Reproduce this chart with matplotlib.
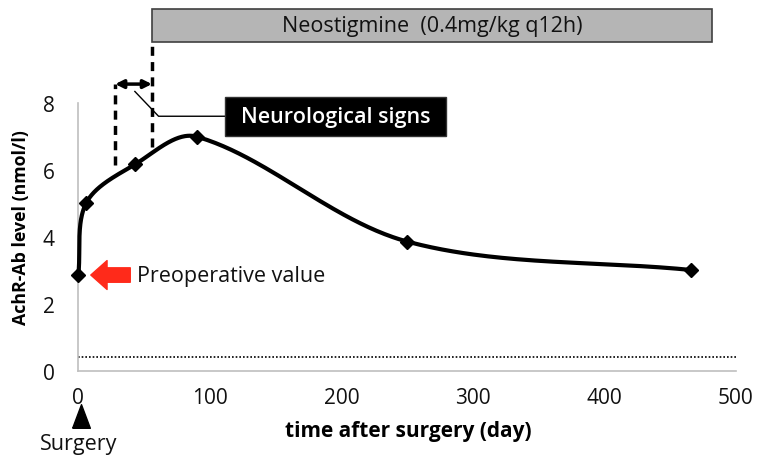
import numpy as np
import matplotlib
matplotlib.use("Agg")
import matplotlib.pyplot as plt
from matplotlib.patches import Rectangle
from matplotlib.path import Path

plt.rcParams['font.family'] = ['Open Sans', 'DejaVu Sans']

# data
days = [0, 6, 43, 90, 250, 466]
achr = [2.85, 5.0, 6.15, 6.98, 3.85, 3.0]
normal_limit = 0.4
xticks = [0, 100, 200, 300, 400, 500]
yticks = [0, 2, 4, 6, 8]
neuro_start, neuro_end = 28, 56
neo_start, neo_end = 56, 482

FS = 15.5

fig = plt.figure(figsize=(7.61, 4.56), dpi=100)
ax = fig.add_axes([0.1029, 0.1853, 0.8642, 0.5877])
ax.set_xlim(0, 500)
ax.set_ylim(0, 8)
for s in ['top', 'right']:
    ax.spines[s].set_visible(False)
for s in ['left', 'bottom']:
    ax.spines[s].set_color('#bfbfbf')
    ax.spines[s].set_linewidth(1.2)
ax.set_xticks(xticks)
ax.set_yticks(yticks)
ax.tick_params(length=0, labelsize=15, labelcolor='#111111')
ax.tick_params(axis='x', pad=12)
ax.tick_params(axis='y', pad=17)

# smooth curve (chord-length Catmull-Rom Bezier in display space)
fig.canvas.draw()
P = ax.transData.transform(np.column_stack([days, achr]))
n = len(P)
d = np.linalg.norm(np.diff(P, axis=0), axis=1)
tang = np.zeros_like(P)
for i in range(n):
    if i == 0:
        tang[i] = (P[1] - P[0]) / d[0]
    elif i == n - 1:
        tang[i] = (P[-1] - P[-2]) / d[-1]
    else:
        tang[i] = (P[i + 1] - P[i - 1]) / (d[i - 1] + d[i])
pts = []
for i in range(n - 1):
    p1, p2 = P[i], P[i + 1]
    c1 = p1 + tang[i] * d[i] / 3
    c2 = p2 - tang[i + 1] * d[i] / 3
    t = np.linspace(0, 1, 80)[:, None]
    seg = (1 - t) ** 3 * p1 + 3 * (1 - t) ** 2 * t * c1 + 3 * (1 - t) * t ** 2 * c2 + t ** 3 * p2
    pts.append(seg)
pts = np.vstack(pts)
curve = ax.transData.inverted().transform(pts)
ax.plot(curve[:, 0], curve[:, 1], color='black', lw=3, solid_capstyle='round', clip_on=False, zorder=3)
ax.plot(days, achr, linestyle='none', marker='D', color='black', markersize=7, clip_on=False, zorder=4)

# normal limit dotted line
ax.plot([0, 500], [normal_limit, normal_limit], color='black', lw=1.2, linestyle=(0, (1, 1.2)), zorder=2)

# dashed verticals
ax.plot([neuro_start, neuro_start], [6.13, 8.55], color='black', lw=2.5, linestyle=(0, (2.6, 1.8)), clip_on=False)
ax.plot([neo_start, neo_start], [6.67, 9.81], color='black', lw=2.5, linestyle=(0, (2.6, 1.8)), clip_on=False)

# double arrow
ax.annotate('', xy=(neuro_start, 8.55), xytext=(neo_start, 8.55),
            arrowprops=dict(arrowstyle='<|-|>', color='black', lw=2.5, mutation_scale=12,
                            shrinkA=0, shrinkB=0), annotation_clip=False)

# leader line
ax.plot([43, 61, 111.5], [8.33, 7.59, 7.59], color='black', lw=1, clip_on=False)

# Neurological signs box
ax.add_patch(Rectangle((111.5, 6.99), 279.3 - 111.5, 8.17 - 6.99, facecolor='black',
                       edgecolor='#333333', lw=1, clip_on=False, zorder=5))
ax.text((111.5 + 279.3) / 2, 7.58, 'Neurological signs', color='white', fontsize=FS,
        fontweight='semibold', ha='center', va='center', zorder=6, clip_on=False)

# Neostigmine bar
ax.add_patch(Rectangle((neo_start, 9.81), neo_end - neo_start, 0.98, facecolor='#b5b5b5',
                       edgecolor='#404040', lw=1.2, clip_on=False, zorder=5))
ax.text((neo_start + neo_end) / 2, 10.29, 'Neostigmine  (0.4mg/kg q12h)', color='#111111',
        fontsize=FS, ha='center', va='center', zorder=6, clip_on=False)

# red arrow for preoperative value
ax.annotate('', xy=(9.5, achr[0]), xytext=(39.5, achr[0]),
            arrowprops=dict(arrowstyle='simple,head_length=0.9,head_width=1.6,tail_width=0.8',
                            color='#ff2a1a', shrinkA=0, shrinkB=0, mutation_scale=13),
            annotation_clip=False)
ax.text(44.5, achr[0], 'Preoperative value', fontsize=FS, ha='left', va='center', color='#111111')

# surgery marker
tri = Path([(-0.75, -1), (0.75, -1), (0, 1), (-0.75, -1)])
ax.plot([2], [-1.36], marker=tri, markersize=17, color='black', clip_on=False, linestyle='none')
ax.text(0, -2.18, 'Surgery', fontsize=FS, ha='center', va='center', color='#111111', clip_on=False)

fig.text(408 / 761, 1 - 432 / 456, 'time after surgery (day)', fontsize=15, fontweight='bold',
         ha='center', va='center')
fig.text(21 / 761, 1 - 228 / 456, 'AchR-Ab level (nmol/l)', fontsize=12.8, fontweight='bold',
         ha='center', va='center', rotation=90)

fig.savefig('out.png', dpi=100)
